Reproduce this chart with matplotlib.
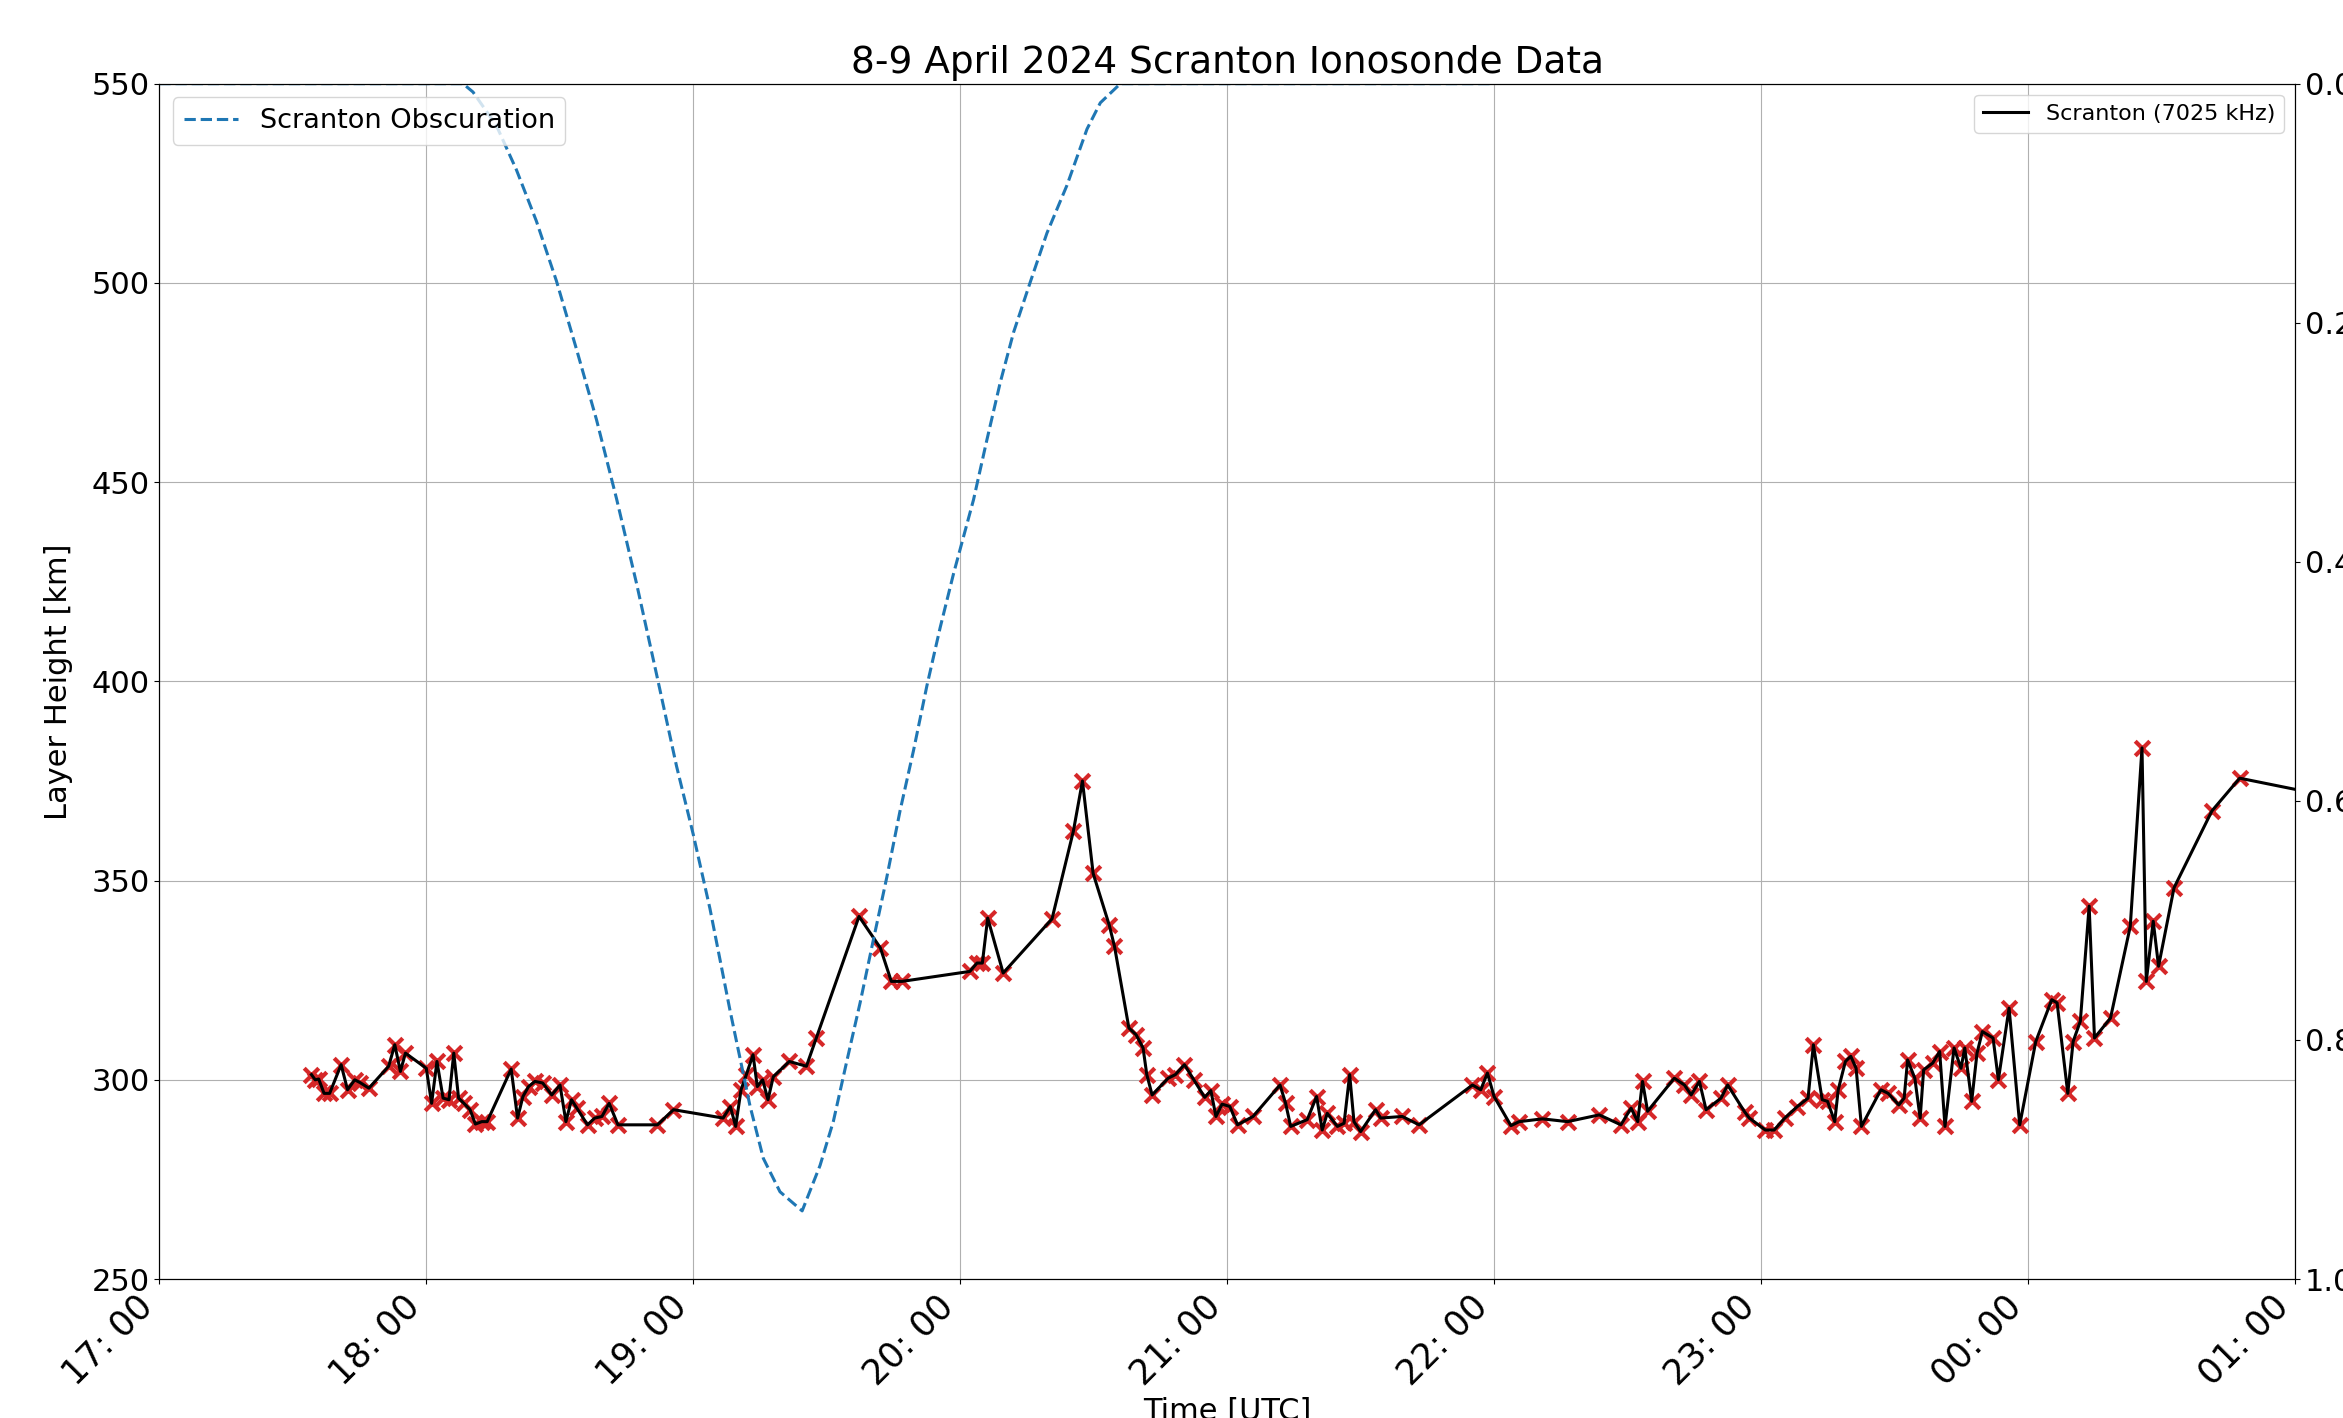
import numpy as np
import pandas as pd
import matplotlib
matplotlib.use('Agg')
import matplotlib.pyplot as plt
import matplotlib.dates as mdates

start = pd.Timestamp('2024-04-08 17:00')

# Scranton ionosonde (7025 kHz) layer height, hours after 17:00 UTC
iono_hours = [0.570, 0.584, 0.597, 0.617, 0.638, 0.681, 0.705, 0.732, 0.752, 0.785,
              0.859, 0.882, 0.903, 0.922, 1.000, 1.020, 1.040, 1.063, 1.085, 1.103,
              1.121, 1.141, 1.164, 1.184, 1.208, 1.228, 1.318, 1.342, 1.362, 1.383,
              1.407, 1.436, 1.470, 1.501, 1.523, 1.544, 1.564, 1.604, 1.631, 1.658,
              1.685, 1.718, 1.866, 1.926, 2.112, 2.139, 2.159, 2.179, 2.199, 2.224,
              2.240, 2.260, 2.280, 2.300, 2.360, 2.424, 2.461, 2.621, 2.701, 2.742,
              2.782, 3.036, 3.063, 3.083, 3.103, 3.161, 3.344, 3.424, 3.458, 3.498,
              3.558, 3.578, 3.632, 3.659, 3.685, 3.699, 3.719, 3.779, 3.806, 3.840,
              3.875, 3.916, 3.939, 3.958, 3.981, 4.010, 4.039, 4.097, 4.198, 4.219,
              4.238, 4.300, 4.335, 4.356, 4.375, 4.413, 4.438, 4.459, 4.475, 4.500,
              4.556, 4.575, 4.656, 4.719, 4.919, 4.950, 4.975, 5.000, 5.063, 5.094,
              5.181, 5.275, 5.394, 5.475, 5.513, 5.538, 5.556, 5.575, 5.675, 5.713,
              5.738, 5.769, 5.794, 5.850, 5.875, 5.938, 5.956, 6.016, 6.049, 6.089,
              6.136, 6.176, 6.196, 6.229, 6.249, 6.276, 6.289, 6.316, 6.336, 6.356,
              6.376, 6.449, 6.476, 6.516, 6.536, 6.549, 6.576, 6.596, 6.609, 6.643,
              6.669, 6.689, 6.723, 6.749, 6.763, 6.789, 6.809, 6.829, 6.869, 6.889,
              6.929, 6.969, 7.029, 7.089, 7.109, 7.149, 7.169, 7.196, 7.229, 7.249,
              7.309, 7.383, 7.427, 7.443, 7.469, 7.489, 7.547, 7.689, 7.793, 8.200]
iono_height = [301.3, 300.0, 300.2, 296.6, 296.6, 303.8, 297.5, 300.0, 299.3, 297.9,
               303.4, 308.8, 302.1, 306.7, 302.9, 294.1, 304.6, 295.4, 295.0, 306.7,
               295.4, 294.1, 292.5, 288.9, 289.5, 289.5, 302.7, 290.4, 295.8, 298.3,
               299.6, 299.2, 296.2, 298.7, 289.5, 295.0, 292.9, 288.7, 290.4, 290.8,
               294.1, 288.7, 288.7, 292.5, 290.4, 293.3, 288.3, 297.5, 301.3, 306.3,
               298.3, 300.0, 295.0, 300.8, 304.6, 303.4, 310.5, 341.0, 333.1, 324.7,
               324.7, 327.2, 329.3, 329.3, 340.6, 326.8, 340.4, 362.4, 375.0, 351.8,
               338.9, 333.5, 313.0, 311.3, 308.0, 301.3, 296.2, 300.4, 301.3, 303.8,
               300.0, 295.6, 297.3, 290.8, 293.9, 293.3, 288.7, 290.8, 298.7, 294.1,
               288.3, 290.0, 295.8, 287.4, 291.6, 288.3, 289.1, 301.3, 289.5, 287.0,
               292.5, 290.4, 290.8, 288.7, 298.7, 297.5, 301.7, 295.8, 288.5, 289.5,
               290.2, 289.5, 291.2, 288.7, 292.9, 289.5, 299.6, 292.1, 300.4, 298.7,
               296.2, 299.6, 292.5, 295.4, 298.7, 292.0, 290.4, 287.4, 287.4, 290.4,
               293.3, 295.4, 308.8, 295.0, 294.6, 289.5, 297.5, 304.6, 305.9, 302.9,
               288.3, 297.5, 296.6, 293.7, 295.4, 305.0, 300.4, 290.4, 302.5, 304.2,
               307.1, 288.3, 308.0, 302.9, 308.0, 294.6, 306.7, 312.1, 310.5, 300.0,
               318.0, 288.7, 309.6, 320.1, 319.3, 296.6, 309.6, 314.7, 343.6, 310.5,
               315.5, 338.5, 383.3, 324.7, 339.8, 328.5, 348.2, 367.5, 375.7, 370.2]

# eclipse obscuration fraction at Scranton, hours after 17:00 UTC
obs_hours = [0.0, 0.5, 1.0, 1.1375, 1.175, 1.2625, 1.3375, 1.4125, 1.4875, 1.5625,
             1.6375, 1.7125, 1.7875, 1.8625, 1.9375, 2.0, 2.0625, 2.1375, 2.2125, 2.2625,
             2.325, 2.408, 2.475, 2.525, 2.575, 2.625, 2.675, 2.725, 2.775, 2.825,
             2.875, 2.925, 2.975, 3.05, 3.1, 3.15, 3.2, 3.2625, 3.325, 3.4,
             3.475, 3.525, 3.6, 4.0, 4.5, 5.0]
obs_frac = [0.0, 0.0, 0.0, 0.0, 0.007, 0.035, 0.072, 0.115, 0.165, 0.222,
            0.281, 0.347, 0.418, 0.494, 0.571, 0.628, 0.690, 0.775, 0.855, 0.899,
            0.927, 0.943, 0.905, 0.868, 0.818, 0.769, 0.716, 0.664, 0.608, 0.558,
            0.504, 0.455, 0.410, 0.348, 0.298, 0.250, 0.208, 0.166, 0.125, 0.085,
            0.038, 0.016, 0.0, 0.0, 0.0, 0.0]

iono_time = start + pd.to_timedelta(iono_hours, unit='h')
obs_time = start + pd.to_timedelta(obs_hours, unit='h')

fig, ax1 = plt.subplots(figsize=(23.43, 14.18), dpi=100)
fig.subplots_adjust(left=0.068, right=0.9795, bottom=0.098, top=0.941)

ax1.scatter(iono_time, iono_height, marker='x', color='tab:red', s=110, linewidths=3, zorder=3)
ax1.plot(iono_time, iono_height, color='k', lw=2.2, label='Scranton (7025 kHz)', zorder=4)
ax1.set_xlim(start, start + pd.Timedelta(hours=8))
ax1.set_ylim(250, 550)
ax1.set_xlabel('Time [UTC]', fontsize=22)
ax1.set_ylabel('Layer Height [km]', fontsize=22, labelpad=13)
ax1.xaxis.set_major_locator(mdates.HourLocator())
ax1.xaxis.set_major_formatter(mdates.DateFormatter('%H: %M'))
ax1.tick_params(axis='y', labelsize=22)
ax1.tick_params(axis='x', labelsize=25)
plt.setp(ax1.get_xticklabels(), rotation=45, ha='right')
ax1.grid(True)
ax1.legend(loc='upper right', fontsize=16)
ax1.set_title('8-9 April 2024 Scranton Ionosonde Data', fontsize=27, pad=8)

# obscuration on a reversed right axis
ax2 = ax1.twinx()
ax2.plot(obs_time, obs_frac, '--', color='tab:blue', lw=2.2, label='Scranton Obscuration')
ax2.set_ylim(1, 0)
ax2.tick_params(labelsize=22)
ax2.legend(loc='upper left', fontsize=19.5)

fig.savefig('out.png', dpi=100)
